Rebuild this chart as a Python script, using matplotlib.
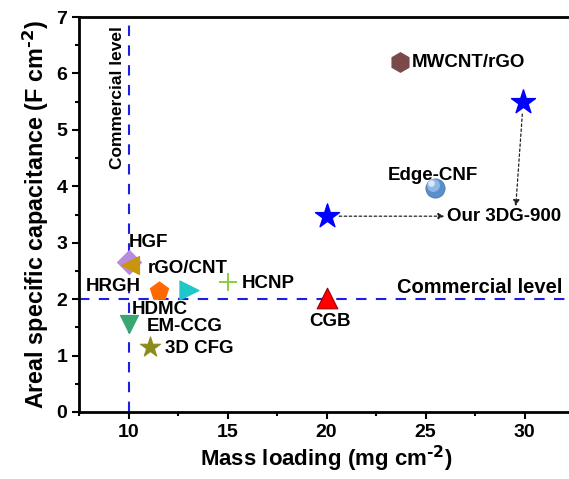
import matplotlib
matplotlib.use("Agg")
import matplotlib.pyplot as plt

plt.rcParams['font.family'] = ['Liberation Sans', 'DejaVu Sans']
plt.rcParams['font.weight'] = 'bold'

# data (mass loading mg cm-2, areal capacitance F cm-2)
names = ["HGF", "HRGH", "HDMC", "rGO/CNT", "HCNP", "EM-CCG", "3D CFG", "CGB", "Edge-CNF", "MWCNT/rGO"]
mass = [10.0, 10.1, 11.55, 13.05, 15.0, 10.0, 11.1, 20.0, 25.5, 23.7]
cap = [2.66, 2.6, 2.14, 2.17, 2.3, 1.56, 1.15, 2.02, 3.97, 6.2]
markers = ["D", "<", "p", ">", "+", "v", "*", "^", "o", "h"]
colors = ["#b88be0", "#c8960c", "#ff6a00", "#1ec8c8", "#8ccc3c", "#3aa673", "#8b8b1a", "#ff0000", "#5b8fc9", "#7a4a4a"]
sizes = [150, 170, 190, 190, 180, 170, 230, 220, 190, 200]

our_mass = [20.0, 29.9]
our_cap = [3.47, 5.5]

commercial_cap = 2.0
commercial_mass = 10.0

label_pos = {  # (x, y, ha)
    "HGF": (11.0, 3.0, "center"),
    "rGO/CNT": (10.95, 2.55, "left"),
    "HRGH": (7.85, 2.23, "left"),
    "HDMC": (10.15, 1.81, "left"),
    "HCNP": (15.7, 2.27, "left"),
    "EM-CCG": (10.9, 1.51, "left"),
    "3D CFG": (11.85, 1.12, "left"),
    "CGB": (20.2, 1.6, "center"),
    "Edge-CNF": (23.1, 4.2, "left"),
    "MWCNT/rGO": (24.3, 6.2, "left"),
}

fig = plt.figure(figsize=(5.69, 4.79), dpi=100)
ax = fig.add_axes([79/569, 67/479, 495/569, 395/479])

ax.axhline(commercial_cap, color="#1f1fe0", ls=(0, (5, 4.5)), lw=1.5, zorder=1)
ax.plot([commercial_mass, commercial_mass], [0, 6.88], color="#1f1fe0", ls=(0, (5, 4.5)), lw=1.5, zorder=1)

for n, x, y, m, c, s in zip(names, mass, cap, markers, colors, sizes):
    if m == "+":
        ax.scatter(x, y, marker=m, s=s, color=c, linewidths=1.4, zorder=3)
    elif m == "o":
        ax.scatter(x, y, marker=m, s=s, color=c, edgecolors="#4a78b0", linewidths=0.6, zorder=3)
        ax.scatter(x - 0.12, y + 0.05, marker=m, s=s * 0.45, color="#8fb8e6", linewidths=0, zorder=3)
        ax.scatter(x - 0.2, y + 0.09, marker=m, s=s * 0.12, color="#d8e8f8", linewidths=0, zorder=3)
    else:
        ec = "#a00000" if n == "CGB" else c
        ax.scatter(x, y, marker=m, s=s, color=c, edgecolors=ec, linewidths=0.8, zorder=3)
    lx, ly, ha = label_pos[n]
    ax.text(lx, ly, n, ha=ha, va="center", fontsize=13.5, fontweight="bold", zorder=4)

ax.scatter(our_mass, our_cap, marker="*", s=330, color="#0000ff", zorder=3)

ax.annotate("", xy=(26.1, 3.47), xytext=(20.5, 3.47),
            arrowprops=dict(arrowstyle="-|>", ls=(0, (2, 2)), lw=0.9, color="#222222",
                            mutation_scale=9))
ax.annotate("", xy=(29.55, 3.6), xytext=(29.9, 5.33),
            arrowprops=dict(arrowstyle="-|>", ls=(0, (2, 2)), lw=0.9, color="#222222",
                            mutation_scale=9))
ax.text(26.1, 3.47, "Our 3DG-900", ha="left", va="center", fontsize=13.5, fontweight="bold")
ax.text(23.55, 2.2, "Commercial level", ha="left", va="center", fontsize=14.5, fontweight="bold")
ax.text(9.42, 5.58, "Commercial level", ha="center", va="center", rotation=90, fontsize=12.5, fontweight="bold")

ax.set_xlim(7.5, 32.5)
ax.set_ylim(0, 7)
ax.set_xticks([10, 15, 20, 25, 30])
ax.set_xticks([12.5, 17.5, 22.5, 27.5, 7.5], minor=True)
ax.set_yticks(range(0, 8))
ax.set_yticks([0.5 + i for i in range(7)], minor=True)
ax.tick_params(which="major", direction="out", length=5, width=1.5, labelsize=14)
ax.tick_params(which="minor", direction="out", length=3, width=1.5)
for lab in ax.get_xticklabels() + ax.get_yticklabels():
    lab.set_fontweight("bold")
for sp in ["left", "bottom", "top"]:
    ax.spines[sp].set_linewidth(2)
ax.spines["right"].set_visible(False)

ax.set_xlabel("Mass loading (mg cm$^{\\mathbf{\u2010 2}}$)", fontsize=16, fontweight="bold", labelpad=2)
ax.set_ylabel("Areal specific capacitance (F cm$^{\\mathbf{\u2010 2}}$)", fontsize=16.8, fontweight="bold", labelpad=4)

fig.savefig("out.png", dpi=100)
